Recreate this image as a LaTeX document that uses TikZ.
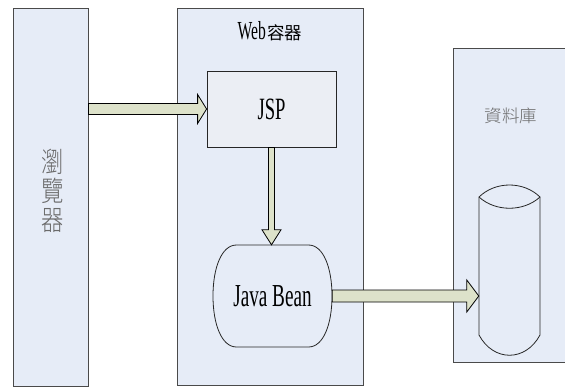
\documentclass[tikz,border=0pt]{standalone}
\usepackage{fontspec}
\usepackage{graphicx}
\setmainfont{Liberation Serif}
\newfontfamily\narrowserif{Liberation Serif}[FakeStretch=0.6]
\newfontfamily\cjk{Noto Sans CJK TC}
\newfontfamily\cjklight{Noto Sans CJK TC Light}
\usetikzlibrary{calc}

\definecolor{panel}{HTML}{E6ECF7}
\definecolor{jspfill}{HTML}{EBEEF4}
\definecolor{arrowfill}{HTML}{DDE2CA}
\definecolor{edge}{HTML}{4A4A4A}
\definecolor{labelgray}{HTML}{6A6A6A}

% horizontal block arrow: start, end, half shaft, half head, head length
\newcommand\hblockarrow[5]{%
  \draw[barrow] let \p1=(#1), \p2=(#2) in
    (\x1,\y1+#3) -- (\x2-#5,\y1+#3) -- (\x2-#5,\y1+#4) -- (\x2,\y1)
    -- (\x2-#5,\y1-#4) -- (\x2-#5,\y1-#3) -- (\x1,\y1-#3) -- cycle;}
% downward block arrow: start, end, half shaft, half head, head length
\newcommand\vblockarrow[5]{%
  \draw[barrow] let \p1=(#1), \p2=(#2) in
    (\x1-#3,\y1) -- (\x1-#3,\y2+#5) -- (\x1-#4,\y2+#5) -- (\x1,\y2)
    -- (\x1+#4,\y2+#5) -- (\x1+#3,\y2+#5) -- (\x1+#3,\y1) -- cycle;}
% a narrowed CJK character for the upright label
\newcommand\narrowchar[1]{\scalebox{0.8}[1]{#1}}

\begin{document}
\begin{tikzpicture}[x=1pt,y=-1pt,
  panelbox/.style={rectangle, draw=edge, fill=panel, line width=0.8pt, inner sep=0pt},
  jspbox/.style={rectangle, draw=black!85, fill=jspfill, line width=0.8pt, inner sep=0pt},
  placeholder/.style={rectangle, inner sep=0pt},
  outline/.style={draw=black!85, fill=panel, line width=0.8pt},
  barrow/.style={draw=black, fill=arrowfill, line width=0.8pt, line join=miter},
  latinbig/.style={font=\narrowserif\fontsize{31}{31}\selectfont},
  latinbean/.style={font=\narrowserif\fontsize{32}{32}\selectfont},
  graylabel/.style={text=labelgray, inner sep=0pt, align=center}]

\useasboundingbox (0,0) rectangle (565,388);
\fill[white] (0,0) rectangle (565,388);
\clip (0,0) rectangle (565,388);

% three tiers
\node[panelbox, minimum width=75pt, minimum height=378pt] (browser) at (50.5,197) {};
\node[panelbox, minimum width=186pt, minimum height=377pt] (web) at (270,196.5) {};
\node[panelbox, minimum width=122pt, minimum height=314pt] (dbpanel) at (514,205) {};

% tier labels
\node[graylabel, font=\cjklight\fontsize{28}{29}\selectfont] (browserlabel) at (53,191)
  {\narrowchar{瀏}\\\narrowchar{覽}\\\narrowchar{器}};
\node[inner sep=0pt] (webtitle) at (270,31)
  {{\narrowserif\fontsize{26}{26}\selectfont Web}\hspace{1.5pt}{\cjk\fontsize{17.5}{17.5}\selectfont 容器}};
\node[graylabel, font=\cjklight\fontsize{17.5}{17.5}\selectfont] (dblabel) at (511,116) {資料庫};

% JSP page
\node[jspbox, minimum width=129pt, minimum height=76pt, latinbig] (jsp) at (271.5,109) {JSP};

% Java Bean: flat top and bottom, bulging sides
\node[placeholder, minimum width=119pt, minimum height=102pt] (bean) at (272.5,296) {};
\begin{scope}[shift={(bean.center)}]
  \draw[outline] (-36,-51) -- (36,-51)
    .. controls (51,-51) and (59.5,-28) .. (59.5,0)
    .. controls (59.5,28) and (51,51) .. (36,51) -- (-36,51)
    .. controls (-51,51) and (-59.5,28) .. (-59.5,0)
    .. controls (-59.5,-28) and (-51,-51) .. (-36,-51) -- cycle;
\end{scope}
\node[latinbean, inner sep=0pt] (beantext) at (bean.center) {Java Bean};

% database cylinder
\node[placeholder, minimum width=61pt, minimum height=138pt] (cyl) at (509.5,266) {};
\begin{scope}[shift={(cyl.center)}]
  \draw[outline] (-30.5,-69) .. controls (-14,-85) and (14,-85) .. (30.5,-69)
    -- (30.5,69) .. controls (16,96) and (-16,96) .. (-30.5,69) -- cycle;
  \draw[draw=black!85, line width=0.8pt]
    (-30.5,-69) .. controls (-14,-54) and (14,-54) .. (30.5,-69);
\end{scope}

% request flow
\hblockarrow{browser.east |- jsp.west}{jsp.west}{5.5pt}{14.5pt}{9pt}
\vblockarrow{jsp.south}{bean.north}{3pt}{9.5pt}{15pt}
\hblockarrow{bean.east}{cyl.west}{6pt}{16pt}{12pt}
\end{tikzpicture}
\end{document}
